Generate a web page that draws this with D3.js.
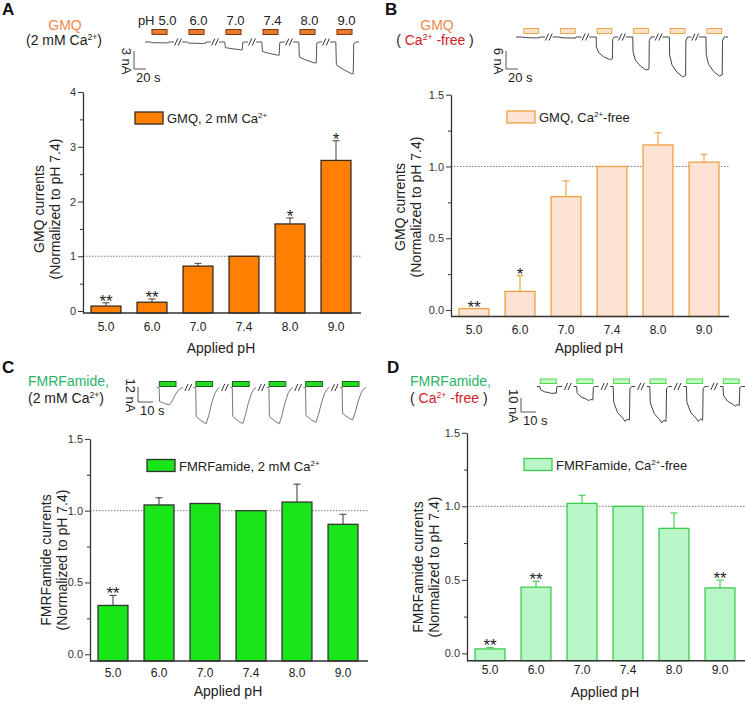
<!DOCTYPE html>
<html lang="en">
<head>
<meta charset="UTF-8">
<title>pH dependence of GMQ and FMRFamide currents</title>
<style>
  body { margin: 0; background: #fff; }
  svg { display: block; font-family: "Liberation Sans", Arial, sans-serif; }
</style>
<script src="https://d3js.org/d3.v7.min.js"></script>
</head>
<body>
<svg width="745" height="706"></svg>
<script>
const phLabels = ["5.0", "6.0", "7.0", "7.4", "8.0", "9.0"];

// normalized currents (to pH 7.4), mean and SEM, plus significance marks
const gmqCaMean = [0.09, 0.16, 0.82, 1.0, 1.59, 2.75];
const gmqCaSem = [0.06, 0.06, 0.05, 0, 0.11, 0.36];
const gmqCaSig = ["**", "**", "", "", "*", "*"];

const gmqFreeMean = [0.01, 0.13, 0.79, 1.0, 1.15, 1.03];
const gmqFreeSem = [0, 0.11, 0.11, 0, 0.085, 0.055];
const gmqFreeSig = ["**", "*", "", "", "", ""];

const fmrfCaMean = [0.34, 1.04, 1.05, 1.0, 1.06, 0.905];
const fmrfCaSem = [0.07, 0.05, 0, 0, 0.125, 0.07];
const fmrfCaSig = ["**", "", "", "", "", ""];

const fmrfFreeMean = [0.03, 0.45, 1.02, 1.0, 0.85, 0.445];
const fmrfFreeSem = [0.01, 0.04, 0.055, 0, 0.105, 0.053];
const fmrfFreeSig = ["**", "**", "", "", "", "**"];

const ticksGmqCa = [0, 1, 2, 3, 4];
const minorGmqCa = [0.5, 1.5, 2.5, 3.5];
const ticksNorm = [0, 0.5, 1.0, 1.5];
const minorNorm = [0.25, 0.75, 1.25];

// peak amplitude of each example trace (nA)
const peakGmqCa = [0.15, 0.25, 1.3, 2.2, 3.5, 5.3];
const peakGmqFree = [0.3, 0.35, 7.5, 11, 13.3, 13];
const peakFmrfCa = [14, 29, 29, 29, 28, 26];
const peakFmrfFree = [5, 10, 25, 26, 25, 14];

// normalized trace shapes: [fraction of sweep, fraction of peak]
const shapeSquare = [[0, 0], [0.2, 0], [0.22, 0.72], [0.45, 0.86], [0.75, 1], [0.8, 1], [0.82, 0.05], [0.9, 0], [1, 0]];
const shapeSag = [[0, 0], [0.24, 0], [0.25, 0.45], [0.33, 0.7], [0.5, 0.88], [0.7, 1], [0.8, 0.97], [0.81, 0.1], [0.87, 0], [1, 0]];
const shapeDesens = [[0, 0], [0.08, 0], [0.1, 0.8], [0.3, 0.92], [0.48, 1], [0.58, 0.78], [0.7, 0.42], [0.83, 0.14], [0.95, 0.02], [1, 0]];
const shapeSlow = [[0, 0], [0.12, 0], [0.14, 0.45], [0.3, 0.75], [0.5, 0.9], [0.6, 1], [0.68, 0.93], [0.77, 0.96], [0.79, 0.05], [0.87, 0], [1, 0]];

const svg = d3.select("svg");
const ink = "#222";

function richText(g, x, y, parts, size, anchor) {
    const t = g.append("text")
        .attr("x", x).attr("y", y)
        .attr("font-size", size)
        .attr("text-anchor", anchor || "start");
    parts.forEach(p => {
        const s = t.append("tspan").text(p.t).attr("fill", p.c || ink);
        if (p.sup) {
            s.attr("font-size", size * 0.62).attr("dy", -size * 0.38);
        } else if (p.after) {
            s.attr("dy", size * 0.38);
        }
    });
    return t;
}

function drawBars(p) {
    const g = svg.append("g");
    const x = d3.scaleBand().domain(phLabels)
        .range([p.x0, p.x0 + 276]).paddingInner(0.35).paddingOuter(0.175);
    const y = d3.scaleLinear().domain(p.yDomain).range([p.yBase, p.yTop]);
    const base = y(p.yDomain[0]);
    const rows = phLabels.map((ph, i) => ({ ph, m: p.mean[i], e: p.sem[i], s: p.sig[i] }));

    // dotted line at 1.0
    g.append("line")
        .attr("x1", p.x0).attr("x2", p.x0 + 278)
        .attr("y1", y(1)).attr("y2", y(1))
        .attr("stroke", "#555").attr("stroke-width", 0.8)
        .attr("stroke-dasharray", "1.5,1.5");

    // bars
    g.selectAll(".bar").data(rows).join("rect")
        .attr("x", d => x(d.ph))
        .attr("y", d => y(d.m))
        .attr("width", x.bandwidth())
        .attr("height", d => base - y(d.m))
        .attr("fill", p.fill)
        .attr("stroke", p.stroke)
        .attr("stroke-width", 1.3);

    // error bars
    const withErr = rows.filter(d => d.e > 0);
    g.selectAll(".err").data(withErr).join("line")
        .attr("x1", d => x(d.ph) + x.bandwidth() / 2)
        .attr("x2", d => x(d.ph) + x.bandwidth() / 2)
        .attr("y1", d => y(d.m))
        .attr("y2", d => y(d.m + d.e))
        .attr("stroke", p.errColor).attr("stroke-width", 1.1);
    g.selectAll(".cap").data(withErr).join("line")
        .attr("x1", d => x(d.ph) + x.bandwidth() / 2 - 3.5)
        .attr("x2", d => x(d.ph) + x.bandwidth() / 2 + 3.5)
        .attr("y1", d => y(d.m + d.e))
        .attr("y2", d => y(d.m + d.e))
        .attr("stroke", p.errColor).attr("stroke-width", 1.1);

    // significance stars
    g.selectAll(".sig").data(rows.filter(d => d.s)).join("text")
        .attr("x", d => x(d.ph) + x.bandwidth() / 2)
        .attr("y", d => y(d.m + d.e) + 4)
        .attr("text-anchor", "middle")
        .attr("font-size", 17)
        .attr("fill", ink)
        .text(d => d.s);

    // y axis with minor ticks
    const yAxis = g.append("g").attr("transform", `translate(${p.x0},0)`)
        .call(d3.axisLeft(y).tickValues(p.ticks).tickFormat(p.fmt)
            .tickSize(5).tickSizeOuter(0).tickPadding(2));
    yAxis.select(".domain").attr("stroke", "#333").attr("stroke-width", 1.3);
    yAxis.selectAll(".tick line").attr("stroke", "#333");
    yAxis.selectAll("text").attr("font-size", 11).attr("fill", "#333").attr("font-family", null);
    const yMinor = g.append("g").attr("transform", `translate(${p.x0},0)`)
        .call(d3.axisLeft(y).tickValues(p.minor).tickFormat("").tickSize(3));
    yMinor.select(".domain").remove();
    yMinor.selectAll(".tick line").attr("stroke", "#333");

    // x axis
    g.append("line")
        .attr("x1", p.x0).attr("x2", p.x0 + 278)
        .attr("y1", base).attr("y2", base)
        .attr("stroke", "#333").attr("stroke-width", 1.5);
    const xAxis = g.append("g").attr("transform", `translate(0,${base})`)
        .call(d3.axisBottom(x).tickSize(0));
    xAxis.select(".domain").remove();
    xAxis.selectAll("text")
        .attr("y", p.tickDy).attr("dy", 0)
        .attr("font-size", 12).attr("fill", ink).attr("font-family", null);

    g.append("text")
        .attr("x", p.x0 + 138).attr("y", p.xLabelY)
        .attr("text-anchor", "middle").attr("font-size", 14).attr("fill", ink)
        .text("Applied pH");

    // y label, two lines
    const cy = p.yLabelY;
    g.append("text")
        .attr("transform", `translate(${p.yLabelX[0]},${cy}) rotate(-90)`)
        .attr("text-anchor", "middle").attr("font-size", 14).attr("fill", ink)
        .text(p.yLabel);
    g.append("text")
        .attr("transform", `translate(${p.yLabelX[1]},${cy}) rotate(-90)`)
        .attr("text-anchor", "middle").attr("font-size", 14).attr("fill", ink)
        .text("(Normalized to pH 7.4)");

    // legend
    g.append("rect")
        .attr("x", p.legend[0]).attr("y", p.legend[1])
        .attr("width", 28).attr("height", 12)
        .attr("fill", p.fill).attr("stroke", p.stroke).attr("stroke-width", 1.3);
    richText(g, p.legend[0] + 32, p.legend[1] + 11, p.legendText, 13);
}

function drawInset(q) {
    const g = svg.append("g");
    const pi = 1 - q.segW / q.step;
    const start = q.segStart - pi * q.step / 2;
    const x = d3.scaleBand().domain(phLabels)
        .range([start, start + 6 * q.step]).paddingInner(pi).paddingOuter(pi / 2);
    const yI = d3.scaleLinear().domain([0, q.scaleNA]).range([q.baseY, q.baseY + q.scalePx]);
    const tI = d3.scaleLinear().domain([0, q.scaleSec]).range([0, q.secPx]);
    const line = d3.line();

    phLabels.forEach((ph, i) => {
        const xi = d3.scaleLinear().domain([0, 1]).range([x(ph), x(ph) + x.bandwidth()]);
        g.append("path")
            .attr("d", line(q.shape.map(s => [xi(s[0]), yI(s[1] * q.peak[i])])))
            .attr("fill", "none").attr("stroke", q.traceColor).attr("stroke-width", 1)
            .attr("stroke-linejoin", "round");
        g.append("rect")
            .attr("x", xi(q.barFrac[0])).attr("y", q.barY)
            .attr("width", xi(q.barFrac[1]) - xi(q.barFrac[0])).attr("height", q.barH)
            .attr("fill", q.barFill).attr("stroke", q.barStroke).attr("stroke-width", 1);
        if (i < phLabels.length - 1) {
            const cx = x(ph) + x.bandwidth() + (q.step - x.bandwidth()) / 2;
            [-1.8, 1.8].forEach(o => {
                g.append("line")
                    .attr("x1", cx + o - 1.6).attr("y1", q.baseY + 3.5)
                    .attr("x2", cx + o + 1.6).attr("y2", q.baseY - 3.5)
                    .attr("stroke", "#333").attr("stroke-width", 1);
            });
        }
        if (q.phText) {
            g.append("text")
                .attr("x", xi(0.5) + (i === 0 ? 8 : 2)).attr("y", q.phTextY)
                .attr("text-anchor", "middle").attr("font-size", 13).attr("fill", ink)
                .text(ph);
            if (i === 0) {
                g.append("text")
                    .attr("x", xi(0.5) - 5).attr("y", q.phTextY)
                    .attr("text-anchor", "end").attr("font-size", 13).attr("fill", ink)
                    .text("pH");
            }
        }
    });

    // scale bar
    const sx = q.sbX, sy = q.sbY;
    const vLen = yI(q.scaleNA) - yI(0);
    g.append("path")
        .attr("d", `M${sx},${sy}V${sy + vLen}H${sx + tI(q.scaleSec)}`)
        .attr("fill", "none").attr("stroke", "#555").attr("stroke-width", 1);
    g.append("text")
        .attr("transform", `translate(${sx - 12},${sy + vLen / 2 + 1}) rotate(90)`)
        .attr("text-anchor", "middle").attr("font-size", 13).attr("fill", ink)
        .text(q.scaleNA + " nA");
    g.append("text")
        .attr("x", sx + 2).attr("y", sy + vLen + 13)
        .attr("font-size", 13).attr("fill", ink)
        .text(q.scaleSec + " s");
}

const orange = "#F08A4B", green = "#2BB36B", red = "#D0202A";

// panel letters and condition titles
[["A", 2, 15], ["B", 385, 15], ["C", 2, 373], ["D", 387, 373]].forEach(l => {
    svg.append("text").attr("x", l[1]).attr("y", l[2])
        .attr("font-size", 17).attr("font-weight", "bold").attr("fill", "#111").text(l[0]);
});
svg.append("text").attr("x", 65).attr("y", 30).attr("text-anchor", "middle")
    .attr("font-size", 14).attr("fill", orange).text("GMQ");
richText(svg, 64, 45, [{ t: "(2 mM Ca" }, { t: "2+", sup: true }, { t: ")", after: true }], 14, "middle");
svg.append("text").attr("x", 437).attr("y", 30).attr("text-anchor", "middle")
    .attr("font-size", 14).attr("fill", orange).text("GMQ");
richText(svg, 435, 45, [{ t: "( " }, { t: "Ca", c: red }, { t: "2+", sup: true, c: red },
    { t: " -free", after: true, c: red }, { t: " )" }], 14, "middle");
svg.append("text").attr("x", 28).attr("y", 386)
    .attr("font-size", 14).attr("fill", green).text("FMRFamide,");
richText(svg, 28, 403, [{ t: "(2 mM Ca" }, { t: "2+", sup: true }, { t: ")", after: true }], 14);
svg.append("text").attr("x", 410).attr("y", 386)
    .attr("font-size", 14).attr("fill", green).text("FMRFamide,");
richText(svg, 410, 403, [{ t: "( " }, { t: "Ca", c: red }, { t: "2+", sup: true, c: red },
    { t: " -free", after: true, c: red }, { t: " )" }], 14);

// example current traces
drawInset({
    peak: peakGmqCa, shape: shapeSquare, segStart: 145, step: 37, segW: 29,
    barY: 29.5, barH: 5, barFrac: [0.24, 0.76], baseY: 42,
    barFill: "#EC7A2D", barStroke: "#7A3A12", traceColor: "#555",
    scaleNA: 3, scalePx: 18, scaleSec: 20, secPx: 12, sbX: 134, sbY: 51,
    phText: true, phTextY: 25
});
drawInset({
    peak: peakGmqFree, shape: shapeSag, segStart: 516, step: 36.6, segW: 29,
    barY: 28.5, barH: 5, barFrac: [0.27, 0.78], baseY: 37,
    barFill: "#FBE3C8", barStroke: "#EEA650", traceColor: "#444",
    scaleNA: 6, scalePx: 18, scaleSec: 20, secPx: 12, sbX: 506, sbY: 51
});
drawInset({
    peak: peakFmrfCa, shape: shapeDesens, segStart: 157, step: 36.6, segW: 26,
    barY: 381.5, barH: 5, barFrac: [0.09, 0.73], baseY: 387.5,
    barFill: "#22DD22", barStroke: "#1E5E1E", traceColor: "#777",
    scaleNA: 12, scalePx: 15, scaleSec: 10, secPx: 15, sbX: 138, sbY: 387
});
drawInset({
    peak: peakFmrfFree, shape: shapeSlow, segStart: 537, step: 36.6, segW: 25,
    barY: 379, barH: 4.5, barFrac: [0.13, 0.77], baseY: 386.5,
    barFill: "#C6F8C6", barStroke: "#4ADB4A", traceColor: "#444",
    scaleNA: 10, scalePx: 14, scaleSec: 10, secPx: 15, sbX: 521, sbY: 398
});

// bar charts
drawBars({
    mean: gmqCaMean, sem: gmqCaSem, sig: gmqCaSig,
    x0: 83, yDomain: [-0.0365, 4], yBase: 313, yTop: 92,
    ticks: ticksGmqCa, minor: minorGmqCa, fmt: d3.format("d"),
    fill: "#FF8000", stroke: "#3B2A1C", errColor: "#5A4A3A",
    tickDy: 18, xLabelY: 353, yLabel: "GMQ currents", yLabelX: [44, 60], yLabelY: 209,
    legend: [135, 112], legendText: [{ t: "GMQ, 2 mM Ca" }, { t: "2+", sup: true }]
});
drawBars({
    mean: gmqFreeMean, sem: gmqFreeSem, sig: gmqFreeSig,
    x0: 451, yDomain: [-0.045, 1.5], yBase: 316.5, yTop: 94.7,
    ticks: ticksNorm, minor: minorNorm, fmt: d3.format(".1f"),
    fill: "#FDE3D3", stroke: "#F0A040", errColor: "#F0A040",
    tickDy: 17.5, xLabelY: 353, yLabel: "GMQ currents", yLabelX: [405, 421], yLabelY: 207,
    legend: [507, 111], legendText: [{ t: "GMQ, Ca" }, { t: "2+", sup: true }, { t: "-free", after: true }]
});
drawBars({
    mean: fmrfCaMean, sem: fmrfCaSem, sig: fmrfCaSig,
    x0: 90, yDomain: [-0.047, 1.5], yBase: 661, yTop: 438.9,
    ticks: ticksNorm, minor: minorNorm, fmt: d3.format(".1f"),
    fill: "#19E619", stroke: "#333", errColor: "#444",
    tickDy: 15.5, xLabelY: 696, yLabel: "FMRFamide currents", yLabelX: [51, 67], yLabelY: 560,
    legend: [147, 459.5], legendText: [{ t: "FMRFamide, 2 mM Ca" }, { t: "2+", sup: true }]
});
drawBars({
    mean: fmrfFreeMean, sem: fmrfFreeSem, sig: fmrfFreeSig,
    x0: 467, yDomain: [-0.05, 1.5], yBase: 660.7, yTop: 432.8,
    ticks: ticksNorm, minor: minorNorm, fmt: d3.format(".1f"),
    fill: "#B9F7C8", stroke: "#3CCB4A", errColor: "#3CCB4A",
    tickDy: 13, xLabelY: 697, yLabel: "FMRFamide currents", yLabelX: [423, 439], yLabelY: 567,
    legend: [524, 458.5], legendText: [{ t: "FMRFamide, Ca" }, { t: "2+", sup: true }, { t: "-free", after: true }]
});
</script>
</body>
</html>
